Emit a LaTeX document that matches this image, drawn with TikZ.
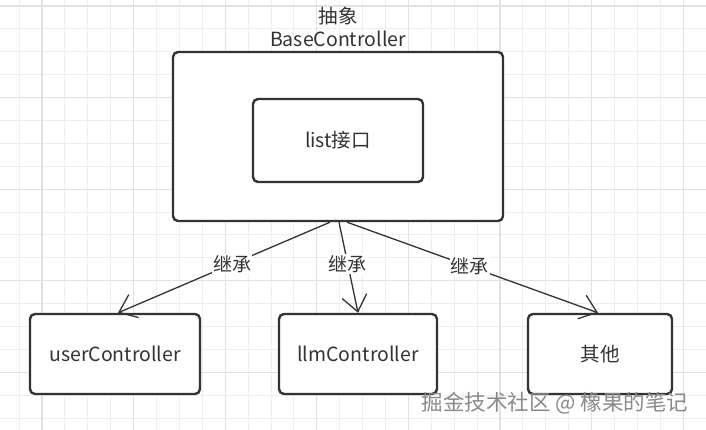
\documentclass[tikz,border=0pt]{standalone}
\usepackage{fontspec}
\setmainfont{Noto Sans CJK SC}
\usetikzlibrary{arrows.meta}
\definecolor{gridminor}{HTML}{EEEEEE}
\definecolor{gridmajor}{HTML}{E2E2E2}
\definecolor{ink}{HTML}{333333}
\definecolor{wm}{HTML}{8A8A8A}
\begin{document}
\begin{tikzpicture}[x=1pt,y=-1pt,
  box/.style={draw=ink, line width=2.4pt, rounded corners=5pt, fill=white, inner sep=0pt,
    font=\fontsize{19.5}{22}\selectfont, text=ink},
  arr/.style={draw=ink, line width=1.3pt, -{Straight Barb[length=16pt,width=25pt]}},
  lbl/.style={fill=white, inner sep=1pt, font=\fontsize{19}{22}\selectfont, text=ink},
  minorline/.style={draw=gridminor, line width=1pt},
  majorline/.style={draw=gridmajor, line width=1.2pt}]
\useasboundingbox (0,0) rectangle (706,430);
\fill[white] (0,0) rectangle (706,430);
\begin{scope}
\clip (0,0) rectangle (706,430);
\foreach \i in {0,...,32} {\draw[minorline] ({-3.8+22.9*\i},0) -- ++(0,430);}
\foreach \i in {0,...,19} {\draw[minorline] (0,{6+22.9*\i}) -- ++(706,0);}
\foreach \i in {0,...,8} {\draw[majorline] ({42+91.6*\i},0) -- ++(0,430);}
\foreach \i in {0,...,4} {\draw[majorline] (0,{6+91.6*\i}) -- ++(706,0);}
\end{scope}

\node[font=\fontsize{19.5}{23}\selectfont, text=ink, align=center, inner sep=0pt] (title) at (338,27) {抽象\\BaseController};
\node[box, minimum width=330pt, minimum height=169pt] (base) at (338,136.5) {};
\node[box, minimum width=170pt, minimum height=83pt] (list) at (338,140.5) {list接口};

\node[box, minimum width=170pt, minimum height=80pt] (user) at (115,354) {userController};
\node[box, minimum width=158pt, minimum height=80pt] (llm) at (358,354) {llmController};
\node[box, minimum width=144pt, minimum height=80pt] (other) at (600,354) {其他};

\draw[arr] ([xshift=-8pt]base.south) -- node[lbl, pos=0.46] (l1) {继承} ([xshift=3pt]user.north);
\draw[arr] ([xshift=1pt]base.south) -- node[lbl, pos=0.46] (l2) {继承} (llm.north);
\draw[arr] ([xshift=9pt]base.south) -- node[lbl, pos=0.49] (l3) {继承} ([xshift=-2pt]other.north);

\node[text=wm, font=\fontsize{21.5}{24}\selectfont] (watermark) at (555,403) {掘金技术社区 @ 橡果的笔记};
\end{tikzpicture}
\end{document}
